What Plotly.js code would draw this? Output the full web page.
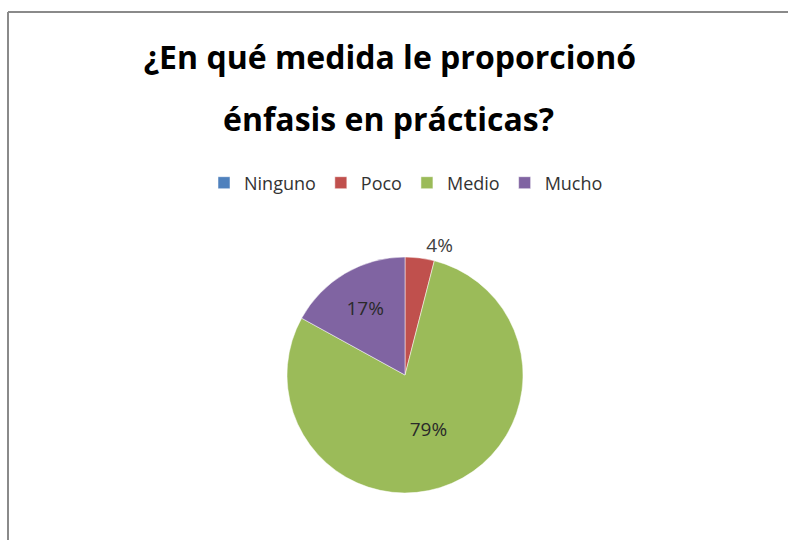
<!DOCTYPE html>
<html>
<head>
<meta charset="utf-8">
<script src="https://cdn.plot.ly/plotly-3.0.1.min.js"></script>
<style>
html,body{margin:0;padding:0;background:#fff;}
#chart{width:788px;height:540px;}
</style>
</head>
<body>
<div id="chart"></div>
<script>
const categories = ['Ninguno', 'Poco', 'Medio', 'Mucho'];
const values = [0, 4, 79, 17];
const colors = ['#4F81BD', '#C0504D', '#9BBB59', '#8064A2'];
const textPositions = ['none', 'outside', 'inside', 'inside'];
const titleLines = ['¿En qué medida le proporcionó', 'énfasis en prácticas?'];

const W = 788, H = 540;
const cx = 405, cy = 375, r = 118;
const titleFont = {family: 'Open Sans, sans-serif', size: 32, color: '#000000', weight: 'bold'};

const trace = {
  type: 'pie',
  labels: categories,
  values: values,
  sort: false,
  direction: 'clockwise',
  rotation: 0,
  marker: {colors: colors, line: {color: '#ffffff', width: 0.5}},
  texttemplate: '%{percent:.0%}',
  textposition: textPositions,
  insidetextorientation: 'horizontal',
  textfont: {family: 'Open Sans, sans-serif', size: 19, color: '#333333'},
  insidetextfont: {family: 'Open Sans, sans-serif', size: 19, color: '#2a2a2a'},
  outsidetextfont: {family: 'Open Sans, sans-serif', size: 19, color: '#404040'},
  domain: {x: [(cx - r) / W, (cx + r) / W], y: [(H - cy - r) / H, (H - cy + r) / H]},
  hoverinfo: 'label+percent'
};

const layout = {
  width: W, height: H,
  margin: {l: 0, r: 0, t: 0, b: 0},
  paper_bgcolor: '#ffffff',
  title: {
    text: titleLines[0],
    font: titleFont,
    x: 390 / W, xanchor: 'center',
    y: 1 - 58 / H, yanchor: 'middle', yref: 'container'
  },
  annotations: [{
    text: titleLines[1],
    font: titleFont,
    showarrow: false,
    xref: 'paper', yref: 'paper',
    x: 388 / W, xanchor: 'center',
    y: 1 - 119 / H, yanchor: 'middle'
  }],
  showlegend: true,
  legend: {
    orientation: 'h',
    x: 406 / W, xanchor: 'center',
    y: 1 - 183 / H, yanchor: 'middle',
    font: {family: 'Open Sans, sans-serif', size: 18, color: '#333333'},
    traceorder: 'normal',
    itemclick: false
  },
  shapes: [
    {type: 'line', xref: 'paper', yref: 'paper', x0: 8 / W, x1: 1, y0: 1 - 12 / H, y1: 1 - 12 / H, line: {color: '#8a8a8a', width: 2}},
    {type: 'line', xref: 'paper', yref: 'paper', x0: 8 / W, x1: 8 / W, y0: 0, y1: 1 - 12 / H, line: {color: '#8a8a8a', width: 2}}
  ]
};

Plotly.newPlot('chart', [trace], layout, {displayModeBar: false, staticPlot: true});
</script>
</body>
</html>
